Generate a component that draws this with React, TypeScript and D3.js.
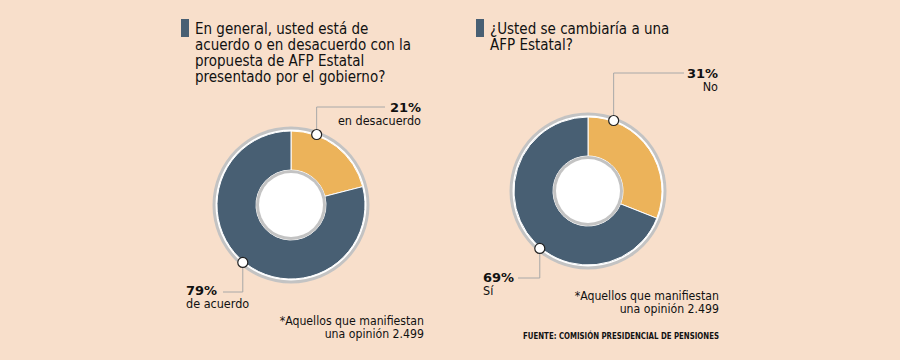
import React from "react";
import * as d3 from "d3";

const leftTitle = ["En general, usted está de", "acuerdo o en desacuerdo con la", "propuesta de AFP Estatal", "presentado por el gobierno?"];
const rightTitle = ["¿Usted se cambiaría a una", "AFP Estatal?"];
const leftCategories = ["en desacuerdo", "de acuerdo"];
const leftValues = [21, 79];
const rightCategories = ["No", "Sí"];
const rightValues = [31, 69];
const footnote = ["*Aquellos que manifiestan", "una opinión 2.499"];
const source = "FUENTE: COMISIÓN PRESIDENCIAL DE PENSIONES";

const BG = "#f8dfcb";
const DARK = "#485f73";
const YELLOW = "#ecb35a";
const RING = "#c3c3c3";
const LINE = "#a8a8a8";
const FONT = "'DejaVu Sans Condensed', 'DejaVu Sans', sans-serif";

const colors = [YELLOW, DARK];

type DonutProps = {
  cx: number;
  cy: number;
  values: number[];
  cats: string[];
  topAngle: number;
  botAngle: number;
  topLineY: number;
  topLineX: number;
  topLabelX: number;
  topLabelY: number;
  botLineY: number;
  botLineX: number;
  botLabelX: number;
  botLabelY: number;
};

function Donut(p: DonutProps) {
  const pie = d3.pie<number>().sort(null).value((d) => d);
  const arcs = pie(p.values);
  const arc = d3.arc<d3.PieArcDatum<number>>().innerRadius(35).outerRadius(74);
  const rM = 75;
  const pt = (deg: number) => {
    const a = (deg * Math.PI) / 180;
    return [p.cx + rM * Math.sin(a), p.cy - rM * Math.cos(a)];
  };
  const [tx, ty] = pt(p.topAngle);
  const [bx, by] = pt(p.botAngle);
  const fmt = (v: number) => `${v}%`;
  return (
    <g>
      <circle cx={p.cx} cy={p.cy} r={78.5} fill={RING} />
      <circle cx={p.cx} cy={p.cy} r={75.5} fill="#ffffff" />
      <g transform={`translate(${p.cx},${p.cy})`}>
        {arcs.map((a, i) => (
          <path key={i} d={arc(a) || ""} fill={colors[i]} stroke="#ffffff" strokeWidth={1} />
        ))}
      </g>
      <circle cx={p.cx} cy={p.cy} r={35} fill={RING} />
      <circle cx={p.cx} cy={p.cy} r={32} fill="#ffffff" />
      <polyline points={`${tx},${ty} ${tx},${p.topLineY} ${p.topLineX},${p.topLineY}`} fill="none" stroke={LINE} strokeWidth={1} />
      <polyline points={`${bx},${by} ${bx},${p.botLineY} ${p.botLineX},${p.botLineY}`} fill="none" stroke={LINE} strokeWidth={1} />
      <circle cx={tx} cy={ty} r={5} fill="#ffffff" stroke="#222" strokeWidth={1.2} />
      <circle cx={bx} cy={by} r={5} fill="#ffffff" stroke="#222" strokeWidth={1.2} />
      <text x={p.topLabelX} y={p.topLabelY} textAnchor="end" fontFamily={FONT} fontSize={12.5} fill="#111">
        <tspan fontWeight="bold" fontFamily="'DejaVu Sans', sans-serif" fontSize={13}>{fmt(p.values[0])}</tspan>
        <tspan x={p.topLabelX} dy={13}>{p.cats[0]}</tspan>
      </text>
      <text x={p.botLabelX} y={p.botLabelY} textAnchor="start" fontFamily={FONT} fontSize={12.5} fill="#111">
        <tspan fontWeight="bold" fontFamily="'DejaVu Sans', sans-serif" fontSize={13}>{fmt(p.values[1])}</tspan>
        <tspan x={p.botLabelX} dy={13}>{p.cats[1]}</tspan>
      </text>
    </g>
  );
}

function Title({ x, y, lines }: { x: number; y: number; lines: string[] }) {
  return (
    <g>
      <rect x={x} y={y - 15} width={8} height={18} fill={DARK} />
      <text x={x + 14} y={y} fontFamily={FONT} fontSize={15} fill="#111">
        {lines.map((l, i) => (
          <tspan key={i} x={x + 14} dy={i === 0 ? 0 : 16}>
            {l}
          </tspan>
        ))}
      </text>
    </g>
  );
}

function Foot({ x, y }: { x: number; y: number }) {
  return (
    <text x={x} y={y} textAnchor="end" fontFamily={FONT} fontSize={12.2} fill="#111">
      {footnote.map((l, i) => (
        <tspan key={i} x={x} dy={i === 0 ? 0 : 13}>
          {l}
        </tspan>
      ))}
    </text>
  );
}

export default function App() {
  return (
    <svg width={900} height={360} style={{ position: "absolute", left: 0, top: 0, display: "block" }}>
      <rect width={900} height={360} fill={BG} />
      <Title x={181} y={34} lines={leftTitle} />
      <Title x={476} y={34} lines={rightTitle} />
      <Donut
        cx={291}
        cy={205}
        values={leftValues}
        cats={leftCategories}
        topAngle={20}
        botAngle={220}
        topLineY={107}
        topLineX={385}
        topLabelX={421}
        topLabelY={112}
        botLineY={292}
        botLineX={223}
        botLabelX={186}
        botLabelY={295}
      />
      <Donut
        cx={588}
        cy={191}
        values={rightValues}
        cats={rightCategories}
        topAngle={20}
        botAngle={220}
        topLineY={73}
        topLineX={684}
        topLabelX={718}
        topLabelY={78}
        botLineY={278}
        botLineX={518}
        botLabelX={483}
        botLabelY={282}
      />
      <Foot x={424} y={325} />
      <Foot x={719} y={300} />
      <text x={719} y={339} textAnchor="end" fontFamily={FONT} fontSize={9} fontWeight="bold" fill="#111" textLength={196} lengthAdjust="spacingAndGlyphs">
        {source}
      </text>
    </svg>
  );
}
